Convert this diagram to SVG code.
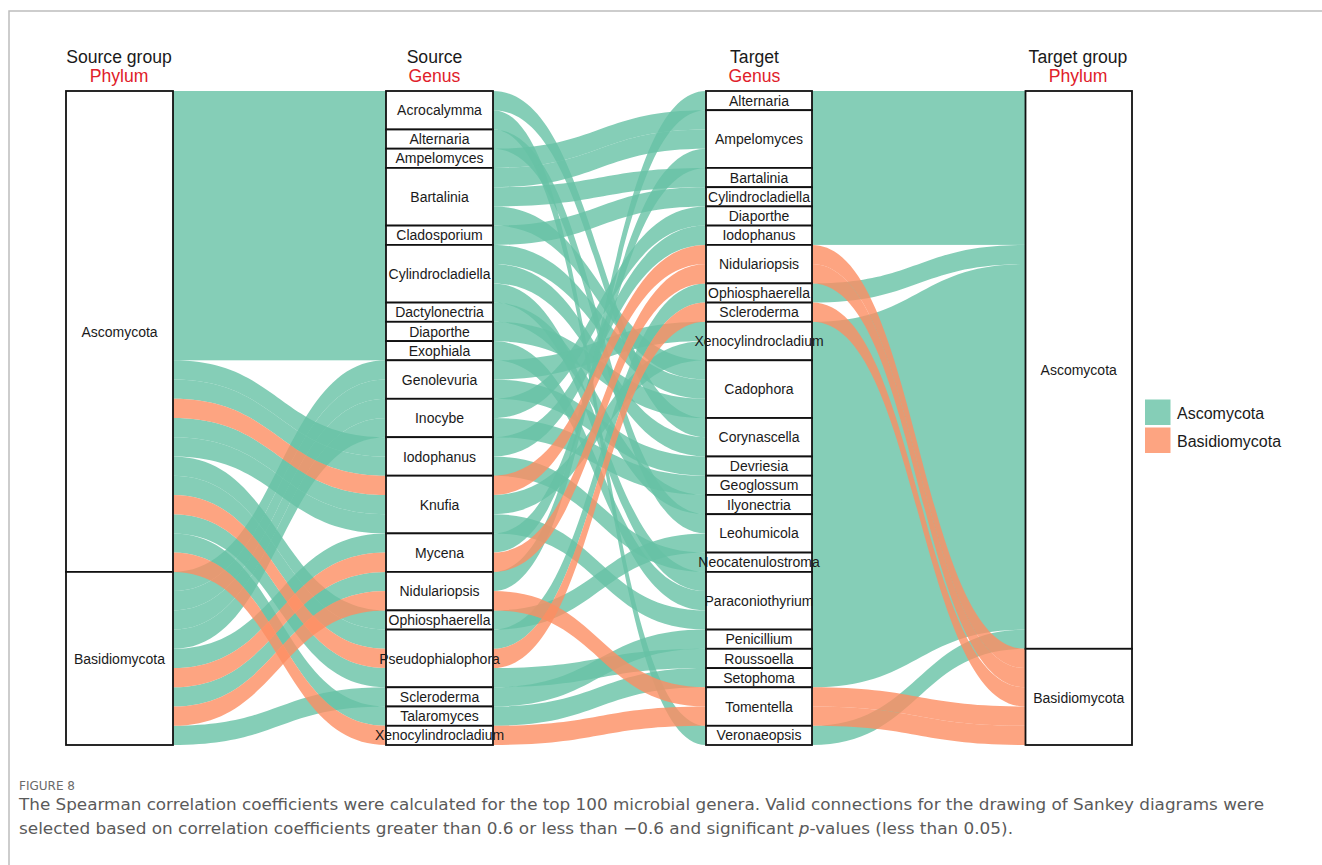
<svg xmlns="http://www.w3.org/2000/svg" width="1322" height="865" viewBox="0 0 1322 865">
<style>
.g{fill:#66C2A5;fill-opacity:.8}
.o{fill:#FC8D62;fill-opacity:.8}
.box{fill:#fff;stroke:#111;stroke-width:1.8}
.lb{font-family:"Liberation Sans",Arial,sans-serif;font-size:14px;fill:#1a1a1a;text-anchor:middle}
.ti{font-family:"Liberation Sans",Arial,sans-serif;font-size:17.6px;fill:#1a1a1a;text-anchor:middle}
.tr{font-family:"Liberation Sans",Arial,sans-serif;font-size:17.6px;fill:#E0202A;text-anchor:middle}
.lg{font-family:"Liberation Sans",Arial,sans-serif;font-size:16px;fill:#1a1a1a}
.cap{font-family:"Liberation Sans Narrow","DejaVu Sans Condensed","Liberation Sans",sans-serif;font-size:16px;fill:#5a5a5a}
.fig{font-family:"Liberation Sans Narrow","DejaVu Sans Condensed","Liberation Sans",sans-serif;font-size:13px;fill:#6a6a6a}
</style>
<rect width="1322" height="865" fill="#fff"/>
<path d="M9 865V11H1322" fill="none" stroke="#bdbdbd" stroke-width="1.5"/>

<g id="titles">
<text class="ti" x="119" y="62.7">Source group</text>
<text class="tr" x="119" y="82.3">Phylum</text>
<text class="ti" x="434.5" y="62.7">Source</text>
<text class="tr" x="434.5" y="82.3">Genus</text>
<text class="ti" x="754.5" y="62.7">Target</text>
<text class="tr" x="754.5" y="82.3">Genus</text>
<text class="ti" x="1078" y="62.7">Target group</text>
<text class="tr" x="1078" y="82.3">Phylum</text>
</g>

<g id="connectors">
<!-- source group -> source genus -->
<rect class="g" x="173" y="91" width="213" height="269.3"/>
<path class="g" d="M173 360.3C279.5 360.3 279.5 437.2 386 437.2V456.5C279.5 456.5 279.5 379.5 173 379.5Z"/>
<path class="g" d="M173 379.5C279.5 379.5 279.5 456.5 386 456.5V475.7C279.5 475.7 279.5 398.8 173 398.8Z"/>
<path class="g" d="M173 418C279.5 418 279.5 494.9 386 494.9V514.2C279.5 514.2 279.5 437.2 173 437.2Z"/>
<path class="g" d="M173 437.2C279.5 437.2 279.5 514.2 386 514.2V533.4C279.5 533.4 279.5 456.5 173 456.5Z"/>
<path class="g" d="M173 456.5C279.5 456.5 279.5 610.4 386 610.4V629.6C279.5 629.6 279.5 475.7 173 475.7Z"/>
<path class="g" d="M173 475.7C279.5 475.7 279.5 629.6 386 629.6V648.8C279.5 648.8 279.5 494.9 173 494.9Z"/>
<path class="g" d="M173 514.2C279.5 514.2 279.5 668.1 386 668.1V687.3C279.5 687.3 279.5 533.4 173 533.4Z"/>
<path class="g" d="M173 533.4C279.5 533.4 279.5 706.5 386 706.5V725.8C279.5 725.8 279.5 552.6 173 552.6Z"/>
<path class="g" d="M173 571.9C279.5 571.9 279.5 360.3 386 360.3V379.5C279.5 379.5 279.5 591.1 173 591.1Z"/>
<path class="g" d="M173 591.1C279.5 591.1 279.5 379.5 386 379.5V398.8C279.5 398.8 279.5 610.4 173 610.4Z"/>
<path class="g" d="M173 610.4C279.5 610.4 279.5 398.8 386 398.8V418C279.5 418 279.5 629.6 173 629.6Z"/>
<path class="g" d="M173 629.6C279.5 629.6 279.5 418 386 418V437.2C279.5 437.2 279.5 648.8 173 648.8Z"/>
<path class="g" d="M173 648.8C279.5 648.8 279.5 533.4 386 533.4V552.6C279.5 552.6 279.5 668.1 173 668.1Z"/>
<path class="g" d="M173 687.3C279.5 687.3 279.5 571.9 386 571.9V591.1C279.5 591.1 279.5 706.5 173 706.5Z"/>
<path class="g" d="M173 725.8C279.5 725.8 279.5 687.3 386 687.3V706.5C279.5 706.5 279.5 745 173 745Z"/>
<path class="o" d="M173 398.8C279.5 398.8 279.5 475.7 386 475.7V494.9C279.5 494.9 279.5 418 173 418Z"/>
<path class="o" d="M173 494.9C279.5 494.9 279.5 648.8 386 648.8V668.1C279.5 668.1 279.5 514.2 173 514.2Z"/>
<path class="o" d="M173 552.6C279.5 552.6 279.5 725.8 386 725.8V745C279.5 745 279.5 571.9 173 571.9Z"/>
<path class="o" d="M173 668.1C279.5 668.1 279.5 552.6 386 552.6V571.9C279.5 571.9 279.5 687.3 173 687.3Z"/>
<path class="o" d="M173 706.5C279.5 706.5 279.5 591.1 386 591.1V610.4C279.5 610.4 279.5 725.8 173 725.8Z"/>

<!-- source genus -> target genus -->
<path class="g" d="M493 91C599.5 91 599.5 418 706 418V437.2C599.5 437.2 599.5 110.2 493 110.2Z"/>
<path class="g" d="M493 110.2C599.5 110.2 599.5 725.8 706 725.8V745C599.5 745 599.5 129.5 493 129.5Z"/>
<path class="g" d="M493 129.5C599.5 129.5 599.5 514.2 706 514.2V533.4C599.5 533.4 599.5 148.7 493 148.7Z"/>
<path class="g" d="M493 148.7C599.5 148.7 599.5 110.2 706 110.2V129.5C599.5 129.5 599.5 167.9 493 167.9Z"/>
<path class="g" d="M493 167.9C599.5 167.9 599.5 129.5 706 129.5V148.7C599.5 148.7 599.5 187.2 493 187.2Z"/>
<path class="g" d="M493 187.2C599.5 187.2 599.5 167.9 706 167.9V187.2C599.5 187.2 599.5 206.4 493 206.4Z"/>
<path class="g" d="M493 206.4C599.5 206.4 599.5 360.3 706 360.3V379.5C599.5 379.5 599.5 225.6 493 225.6Z"/>
<path class="g" d="M493 225.6C599.5 225.6 599.5 187.2 706 187.2V206.4C599.5 206.4 599.5 244.9 493 244.9Z"/>
<path class="g" d="M493 244.9C599.5 244.9 599.5 379.5 706 379.5V398.8C599.5 398.8 599.5 264.1 493 264.1Z"/>
<path class="g" d="M493 264.1C599.5 264.1 599.5 437.2 706 437.2V456.5C599.5 456.5 599.5 283.4 493 283.4Z"/>
<path class="g" d="M493 283.4C599.5 283.4 599.5 571.9 706 571.9V591.1C599.5 591.1 599.5 302.6 493 302.6Z"/>
<path class="g" d="M493 302.6C599.5 302.6 599.5 494.9 706 494.9V514.2C599.5 514.2 599.5 321.8 493 321.8Z"/>
<path class="g" d="M493 321.8C599.5 321.8 599.5 398.8 706 398.8V418C599.5 418 599.5 341.1 493 341.1Z"/>
<path class="g" d="M493 341.1C599.5 341.1 599.5 591.1 706 591.1V610.4C599.5 610.4 599.5 360.3 493 360.3Z"/>
<path class="g" d="M493 360.3C599.5 360.3 599.5 321.8 706 321.8V341.1C599.5 341.1 599.5 379.5 493 379.5Z"/>
<path class="g" d="M493 379.5C599.5 379.5 599.5 456.5 706 456.5V475.7C599.5 475.7 599.5 398.8 493 398.8Z"/>
<path class="g" d="M493 398.8C599.5 398.8 599.5 206.4 706 206.4V225.6C599.5 225.6 599.5 418 493 418Z"/>
<path class="g" d="M493 418C599.5 418 599.5 475.7 706 475.7V494.9C599.5 494.9 599.5 437.2 493 437.2Z"/>
<path class="g" d="M493 437.2C599.5 437.2 599.5 225.6 706 225.6V244.9C599.5 244.9 599.5 456.5 493 456.5Z"/>
<path class="g" d="M493 456.5C599.5 456.5 599.5 552.6 706 552.6V571.9C599.5 571.9 599.5 475.7 493 475.7Z"/>
<path class="g" d="M493 494.9C599.5 494.9 599.5 341.1 706 341.1V360.3C599.5 360.3 599.5 514.2 493 514.2Z"/>
<path class="g" d="M493 514.2C599.5 514.2 599.5 610.4 706 610.4V629.6C599.5 629.6 599.5 533.4 493 533.4Z"/>
<path class="g" d="M493 533.4C599.5 533.4 599.5 148.7 706 148.7V167.9C599.5 167.9 599.5 552.6 493 552.6Z"/>
<path class="g" d="M493 571.9C599.5 571.9 599.5 91 706 91V110.2C599.5 110.2 599.5 591.1 493 591.1Z"/>
<path class="g" d="M493 610.4C599.5 610.4 599.5 533.4 706 533.4V552.6C599.5 552.6 599.5 629.6 493 629.6Z"/>
<path class="g" d="M493 629.6C599.5 629.6 599.5 283.4 706 283.4V302.6C599.5 302.6 599.5 648.8 493 648.8Z"/>
<path class="g" d="M493 668.1C599.5 668.1 599.5 648.8 706 648.8V668.1C599.5 668.1 599.5 687.3 493 687.3Z"/>
<path class="g" d="M493 687.3C599.5 687.3 599.5 629.6 706 629.6V648.8C599.5 648.8 599.5 706.5 493 706.5Z"/>
<path class="g" d="M493 706.5C599.5 706.5 599.5 668.1 706 668.1V687.3C599.5 687.3 599.5 725.8 493 725.8Z"/>
<path class="o" d="M493 475.7C599.5 475.7 599.5 244.9 706 244.9V264.1C599.5 264.1 599.5 494.9 493 494.9Z"/>
<path class="o" d="M493 552.6C599.5 552.6 599.5 264.1 706 264.1V283.4C599.5 283.4 599.5 571.9 493 571.9Z"/>
<path class="o" d="M493 591.1C599.5 591.1 599.5 687.3 706 687.3V706.5C599.5 706.5 599.5 610.4 493 610.4Z"/>
<path class="o" d="M493 648.8C599.5 648.8 599.5 302.6 706 302.6V321.8C599.5 321.8 599.5 668.1 493 668.1Z"/>
<path class="o" d="M493 725.8C599.5 725.8 599.5 706.5 706 706.5V725.8C599.5 725.8 599.5 745 493 745Z"/>

<!-- target genus -> target group -->
<rect class="g" x="812" y="91" width="213" height="153.9"/>
<path class="g" d="M812 283.4C918.5 283.4 918.5 244.9 1025 244.9V264.1C918.5 264.1 918.5 302.6 812 302.6Z"/>
<path class="g" d="M812 321.8C918.5 321.8 918.5 264.1 1025 264.1V629.6C918.5 629.6 918.5 687.3 812 687.3Z"/>
<path class="g" d="M812 725.8C918.5 725.8 918.5 629.6 1025 629.6V648.8C918.5 648.8 918.5 745 812 745Z"/>
<path class="o" d="M812 244.9C918.5 244.9 918.5 648.8 1025 648.8V668.1C918.5 668.1 918.5 264.1 812 264.1Z"/>
<path class="o" d="M812 264.1C918.5 264.1 918.5 668.1 1025 668.1V687.3C918.5 687.3 918.5 283.4 812 283.4Z"/>
<path class="o" d="M812 302.6C918.5 302.6 918.5 687.3 1025 687.3V706.5C918.5 706.5 918.5 321.8 812 321.8Z"/>
<path class="o" d="M812 687.3C918.5 687.3 918.5 706.5 1025 706.5V725.8C918.5 725.8 918.5 706.5 812 706.5Z"/>
<path class="o" d="M812 706.5C918.5 706.5 918.5 725.8 1025 725.8V745C918.5 745 918.5 725.8 812 725.8Z"/>
</g>

<!-- source group nodes -->
<g id="sg-ascomycota"><rect class="box" x="66" y="91" width="107" height="480.9"/><text class="lb" x="119.5" y="336.5">Ascomycota</text></g>
<g id="sg-basidiomycota"><rect class="box" x="66" y="571.9" width="107" height="173.1"/><text class="lb" x="119.5" y="663.5">Basidiomycota</text></g>

<!-- source genus nodes -->
<g id="s-acrocalymma"><rect class="box" x="386" y="91" width="107" height="38.5"/><text class="lb" x="439.5" y="115.2">Acrocalymma</text></g>
<g id="s-alternaria"><rect class="box" x="386" y="129.5" width="107" height="19.2"/><text class="lb" x="439.5" y="144.1">Alternaria</text></g>
<g id="s-ampelomyces"><rect class="box" x="386" y="148.7" width="107" height="19.2"/><text class="lb" x="439.5" y="163.3">Ampelomyces</text></g>
<g id="s-bartalinia"><rect class="box" x="386" y="167.9" width="107" height="57.7"/><text class="lb" x="439.5" y="201.8">Bartalinia</text></g>
<g id="s-cladosporium"><rect class="box" x="386" y="225.6" width="107" height="19.3"/><text class="lb" x="439.5" y="240.3">Cladosporium</text></g>
<g id="s-cylindrocladiella"><rect class="box" x="386" y="244.9" width="107" height="57.7"/><text class="lb" x="439.5" y="278.8">Cylindrocladiella</text></g>
<g id="s-dactylonectria"><rect class="box" x="386" y="302.6" width="107" height="19.2"/><text class="lb" x="439.5" y="317.2">Dactylonectria</text></g>
<g id="s-diaporthe"><rect class="box" x="386" y="321.8" width="107" height="19.3"/><text class="lb" x="439.5" y="336.5">Diaporthe</text></g>
<g id="s-exophiala"><rect class="box" x="386" y="341.1" width="107" height="19.2"/><text class="lb" x="439.5" y="355.7">Exophiala</text></g>
<g id="s-genolevuria"><rect class="box" x="386" y="360.3" width="107" height="38.5"/><text class="lb" x="439.5" y="384.5">Genolevuria</text></g>
<g id="s-inocybe"><rect class="box" x="386" y="398.8" width="107" height="38.4"/><text class="lb" x="439.5" y="423">Inocybe</text></g>
<g id="s-iodophanus"><rect class="box" x="386" y="437.2" width="107" height="38.5"/><text class="lb" x="439.5" y="461.5">Iodophanus</text></g>
<g id="s-knufia"><rect class="box" x="386" y="475.7" width="107" height="57.7"/><text class="lb" x="439.5" y="509.6">Knufia</text></g>
<g id="s-mycena"><rect class="box" x="386" y="533.4" width="107" height="38.5"/><text class="lb" x="439.5" y="557.6">Mycena</text></g>
<g id="s-nidulariopsis"><rect class="box" x="386" y="571.9" width="107" height="38.5"/><text class="lb" x="439.5" y="596.1">Nidulariopsis</text></g>
<g id="s-ophiosphaerella"><rect class="box" x="386" y="610.4" width="107" height="19.2"/><text class="lb" x="439.5" y="625">Ophiosphaerella</text></g>
<g id="s-pseudophialophora"><rect class="box" x="386" y="629.6" width="107" height="57.7"/><text class="lb" x="439.5" y="663.5">Pseudophialophora</text></g>
<g id="s-scleroderma"><rect class="box" x="386" y="687.3" width="107" height="19.2"/><text class="lb" x="439.5" y="701.9">Scleroderma</text></g>
<g id="s-talaromyces"><rect class="box" x="386" y="706.5" width="107" height="19.3"/><text class="lb" x="439.5" y="721.2">Talaromyces</text></g>
<g id="s-xenocylindrocladium"><rect class="box" x="386" y="725.8" width="107" height="19.2"/><text class="lb" x="439.5" y="740.4">Xenocylindrocladium</text></g>

<!-- target genus nodes -->
<g id="t-alternaria"><rect class="box" x="706" y="91" width="106" height="19.2"/><text class="lb" x="759" y="105.6">Alternaria</text></g>
<g id="t-ampelomyces"><rect class="box" x="706" y="110.2" width="106" height="57.7"/><text class="lb" x="759" y="144.1">Ampelomyces</text></g>
<g id="t-bartalinia"><rect class="box" x="706" y="167.9" width="106" height="19.3"/><text class="lb" x="759" y="182.6">Bartalinia</text></g>
<g id="t-cylindrocladiella"><rect class="box" x="706" y="187.2" width="106" height="19.2"/><text class="lb" x="759" y="201.8">Cylindrocladiella</text></g>
<g id="t-diaporthe"><rect class="box" x="706" y="206.4" width="106" height="19.2"/><text class="lb" x="759" y="221">Diaporthe</text></g>
<g id="t-iodophanus"><rect class="box" x="706" y="225.6" width="106" height="19.3"/><text class="lb" x="759" y="240.3">Iodophanus</text></g>
<g id="t-nidulariopsis"><rect class="box" x="706" y="244.9" width="106" height="38.5"/><text class="lb" x="759" y="269.1">Nidulariopsis</text></g>
<g id="t-ophiosphaerella"><rect class="box" x="706" y="283.4" width="106" height="19.2"/><text class="lb" x="759" y="298">Ophiosphaerella</text></g>
<g id="t-scleroderma"><rect class="box" x="706" y="302.6" width="106" height="19.2"/><text class="lb" x="759" y="317.2">Scleroderma</text></g>
<g id="t-xenocylindrocladium"><rect class="box" x="706" y="321.8" width="106" height="38.5"/><text class="lb" x="759" y="346.1">Xenocylindrocladium</text></g>
<g id="t-cadophora"><rect class="box" x="706" y="360.3" width="106" height="57.7"/><text class="lb" x="759" y="394.2">Cadophora</text></g>
<g id="t-corynascella"><rect class="box" x="706" y="418" width="106" height="38.5"/><text class="lb" x="759" y="442.2">Corynascella</text></g>
<g id="t-devriesia"><rect class="box" x="706" y="456.5" width="106" height="19.2"/><text class="lb" x="759" y="471.1">Devriesia</text></g>
<g id="t-geoglossum"><rect class="box" x="706" y="475.7" width="106" height="19.2"/><text class="lb" x="759" y="490.3">Geoglossum</text></g>
<g id="t-ilyonectria"><rect class="box" x="706" y="494.9" width="106" height="19.3"/><text class="lb" x="759" y="509.6">Ilyonectria</text></g>
<g id="t-leohumicola"><rect class="box" x="706" y="514.2" width="106" height="38.4"/><text class="lb" x="759" y="538.4">Leohumicola</text></g>
<g id="t-neocatenulostroma"><rect class="box" x="706" y="552.6" width="106" height="19.3"/><text class="lb" x="759" y="567.3">Neocatenulostroma</text></g>
<g id="t-paraconiothyrium"><rect class="box" x="706" y="571.9" width="106" height="57.7"/><text class="lb" x="759" y="605.8">Paraconiothyrium</text></g>
<g id="t-penicillium"><rect class="box" x="706" y="629.6" width="106" height="19.2"/><text class="lb" x="759" y="644.2">Penicillium</text></g>
<g id="t-roussoella"><rect class="box" x="706" y="648.8" width="106" height="19.3"/><text class="lb" x="759" y="663.5">Roussoella</text></g>
<g id="t-setophoma"><rect class="box" x="706" y="668.1" width="106" height="19.2"/><text class="lb" x="759" y="682.7">Setophoma</text></g>
<g id="t-tomentella"><rect class="box" x="706" y="687.3" width="106" height="38.5"/><text class="lb" x="759" y="711.5">Tomentella</text></g>
<g id="t-veronaeopsis"><rect class="box" x="706" y="725.8" width="106" height="19.2"/><text class="lb" x="759" y="740.4">Veronaeopsis</text></g>

<!-- target group nodes -->
<g id="tg-ascomycota"><rect class="box" x="1025.5" y="91" width="106.5" height="557.8"/><text class="lb" x="1078.7" y="375">Ascomycota</text></g>
<g id="tg-basidiomycota"><rect class="box" x="1025.5" y="648.8" width="106.5" height="96.2"/><text class="lb" x="1078.7" y="702.5">Basidiomycota</text></g>

<g id="legend">
<rect class="g" x="1145" y="399.5" width="25.5" height="25.5"/>
<rect class="o" x="1145" y="427.5" width="25.5" height="25.5"/>
<text class="lg" x="1177" y="419">Ascomycota</text>
<text class="lg" x="1177" y="447">Basidiomycota</text>
</g>

<g id="caption">
<text class="fig" x="19" y="790" textLength="56" lengthAdjust="spacingAndGlyphs">FIGURE 8</text>
<text class="cap" x="19" y="810" textLength="1245" lengthAdjust="spacingAndGlyphs">The Spearman correlation coefficients were calculated for the top 100 microbial genera. Valid connections for the drawing of Sankey diagrams were</text>
<text class="cap" x="19" y="834" textLength="994" lengthAdjust="spacingAndGlyphs">selected based on correlation coefficients greater than 0.6 or less than −0.6 and significant <tspan font-style="italic">p</tspan>-values (less than 0.05).</text>
</g>
</svg>
